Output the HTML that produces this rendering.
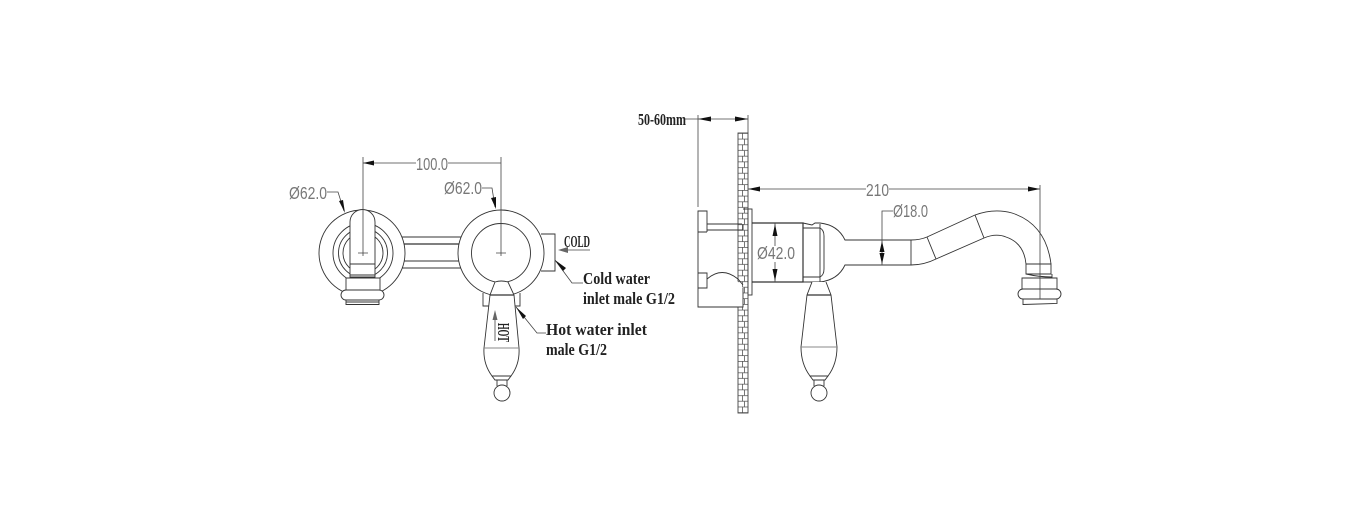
<!DOCTYPE html>
<html>
<head>
<meta charset="utf-8">
<style>
html,body{margin:0;padding:0;background:#fff;}
svg{display:block;}
.l{fill:none;stroke:#333;stroke-width:.9;}
.d{fill:none;stroke:#444;stroke-width:.8;}
.a{fill:#111;stroke:none;}
.t{font-family:"Liberation Sans",sans-serif;font-size:17.5px;fill:#777;}
.b{font-family:"Liberation Serif",serif;font-weight:bold;font-size:16.5px;fill:#222;}
</style>
</head>
<body>
<svg width="1351" height="528" viewBox="0 0 1351 528" xmlns="http://www.w3.org/2000/svg">
<defs>
<pattern id="br" x="738" y="133" width="10" height="11.4" patternUnits="userSpaceOnUse">
<path d="M0 .4H10M0 6.1H10M4.5 .4V6.1M6.5 6.1V11.4" fill="none" stroke="#555" stroke-width=".8"/>
</pattern>
</defs>
<rect width="1351" height="528" fill="#fff"/>

<!-- Bars between the two front bodies -->
<g class="l">
<path d="M400 237H465M400 268H465M400 261H465"/>
<path d="M400 244H465" stroke-width="1.300"/>
</g>

<!-- Left handle assembly -->
<g class="l">
<circle cx="362" cy="253" r="43" fill="#fff"/>
<circle cx="363" cy="253" r="30"/>
<circle cx="363" cy="253" r="24.5"/>
<circle cx="363" cy="253" r="20"/>
<path d="M350 277V222a12.5 12.5 0 0 1 25 0V277Z" fill="#fff"/>
<path d="M350 264H375M350 275H375"/>
<path d="M346 290V278H380V290" fill="#fff"/>
<rect x="341" y="290" width="43" height="10" rx="5" fill="#fff"/>
<path d="M346 300V304.500H379V300M346 302H379"/>
</g>

<!-- Right front body -->
<g class="l">
<path d="M541 234H555V271H541"/>
<path d="M490 295V306H483V293M514 295V306H520V293"/>
<circle cx="501" cy="253" r="43" fill="#fff"/>
<circle cx="501" cy="253" r="29.500"/>
<path d="M495 282L490 295L484 348Q483 364 492 376H511Q520 364 519 348L514 295L508 282Q501 280 495 282Z" fill="#fff"/>
<path d="M490 295H514" stroke-width="1.300"/>
<path d="M484 348H519" stroke="#888"/>
<path d="M492 376L495 380H508L511 376M497 380V386M507 380V386"/>
<circle cx="502" cy="393" r="8" fill="#fff"/>
</g>

<!-- Left dimensions -->
<g class="d">
<path d="M363 157V253M501 157V253M358 253H368M496 253H506M363 250V256M501 250V256"/>
<path d="M363 163H416M448 163H501"/>
<path d="M327 192H338L344 211"/>
<path d="M482 188H492L495 207"/>
<path d="M590 250H560"/>
<path d="M495 341V312"/>
<path d="M555 260L572 283H583M516 307L537 333H546"/>
</g>
<path class="a" d="M363 163L374 160.500V165.500ZM345 213L339 201L343 200ZM496 209L491 198L496 197ZM555 260L566 268L563 271ZM516 307L526 316L523 319Z"/>
<path d="M558 250L568 247V253ZM495 310L492.500 320H497.500Z" fill="#666"/>
<text class="t" x="416" y="170" textLength="32" lengthAdjust="spacingAndGlyphs">100.0</text>
<text class="t" x="289" y="199" textLength="38" lengthAdjust="spacingAndGlyphs">Ø62.0</text>
<text class="t" x="444" y="194" textLength="38" lengthAdjust="spacingAndGlyphs">Ø62.0</text>
<text class="b" x="564" y="247" textLength="26" lengthAdjust="spacingAndGlyphs">COLD</text>
<text class="b" x="583" y="284" textLength="67" lengthAdjust="spacingAndGlyphs">Cold water</text>
<text class="b" x="583" y="304" textLength="92" lengthAdjust="spacingAndGlyphs">inlet male G1/2</text>
<text class="b" x="546" y="335" textLength="101" lengthAdjust="spacingAndGlyphs">Hot water inlet</text>
<text class="b" x="546" y="355" textLength="61" lengthAdjust="spacingAndGlyphs">male G1/2</text>
<text class="b" transform="translate(498,323) rotate(90)" x="0" y="0" textLength="19" lengthAdjust="spacingAndGlyphs">HOT</text>

<!-- Wall -->
<rect x="738" y="133" width="10" height="280" fill="url(#br)" stroke="#444" stroke-width=".9"/>

<!-- Side view: back box -->
<g class="l">
<path d="M698 232V307H743V288M707 232H698V211H707V232M698 273H707V288H698Z" fill="#fff"/>
<path d="M707 224H742M707 230H743"/>
<path d="M707 279Q722 266 738 279L743 285"/>
<rect x="748" y="209" width="4" height="86" fill="#fff"/>
<path d="M743 209H748M743 224V230"/>
<path d="M752 223H803V282H752" stroke-width="1.200"/>
<path d="M803 228H820Q824 230 824 236V269Q824 275 820 277H803"/>
<path d="M803 223L812 225L815 223H820Q838 225 845 240H911V265H845Q838 280 820 282H803"/>
<path d="M820 224V282"/>
<path d="M911 240Q920 240 927 237L975 215Q994 208 1012 213Q1046 224 1051 264"/>
<path d="M911 265Q924 265 936 259L984 238Q996 233 1006 237Q1024 243 1026 264"/>
<path d="M927 237L936 259M975 215L984 238"/>
<path d="M1026 264H1051V274H1026ZM1026 274Q1039 277 1052 277V274"/>
<path d="M1022 278H1057V289H1022Z" fill="#fff"/>
<rect x="1018" y="289" width="43" height="10" rx="5" fill="#fff"/>
<path d="M1023 299V304.500L1057 303.500V299"/>
<!-- Side handle -->
<path d="M812 282L807 295L801 347Q801 364 810 376H828Q837 364 837 347L831 295L826 282" fill="#fff"/>
<path d="M807 295H831" stroke-width="1.300"/>
<path d="M801 347H837" stroke="#888"/>
<path d="M810 376L813 380H825L828 376M814 380V386M824 380V386"/>
<circle cx="819" cy="393" r="8" fill="#fff"/>
</g>

<!-- Side dimensions -->
<g class="d">
<path d="M698 115V207M748 115V133"/>
<path d="M685 119H748"/>
<path d="M748 189H866M889 189H1040M1040 185V299"/>
<path d="M775 223V246M775 262V282"/>
<path d="M882 240V265M882 240V211H893"/>
</g>
<path class="a" d="M698 119L711 116.500V121.500ZM748 119L735 116.500V121.500ZM748 189L760 186.500V191.500ZM1040 189L1028 186.500V191.500ZM775 224L772.500 236H777.500ZM775 281L772.500 269H777.500ZM882 241L879.500 252H884.500ZM882 264L879.500 253H884.500Z"/>
<text class="b" x="638" y="125" textLength="48" lengthAdjust="spacingAndGlyphs">50-60mm</text>
<text class="t" x="866" y="196" textLength="23" lengthAdjust="spacingAndGlyphs">210</text>
<text class="t" x="893" y="217" textLength="35" lengthAdjust="spacingAndGlyphs">Ø18.0</text>
<text class="t" x="757" y="259" textLength="38" lengthAdjust="spacingAndGlyphs">Ø42.0</text>
</svg>
</body>
</html>
